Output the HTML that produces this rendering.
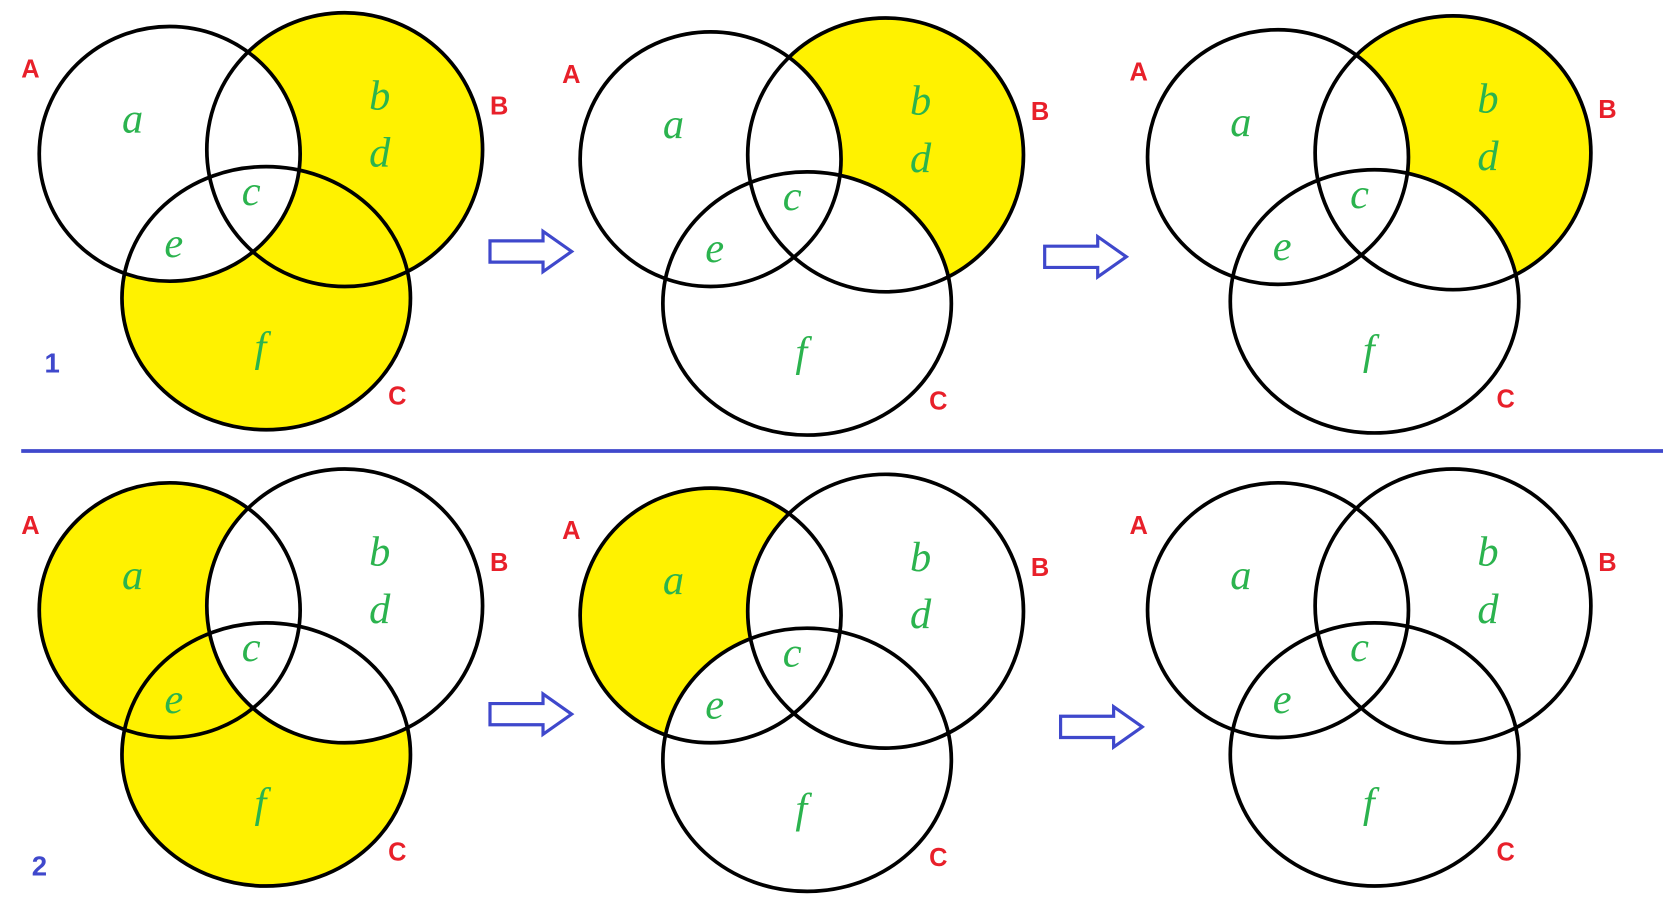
<!DOCTYPE html>
<html><head><meta charset="utf-8"><style>
html,body{margin:0;padding:0;background:#fff;}
svg{display:block;}
.g{font-family:"Liberation Serif",serif;font-style:italic;fill:#2bb34e;font-size:40px;}
.r{font-family:"Liberation Sans",sans-serif;font-weight:bold;fill:#e8202a;font-size:24px;}
.n{font-family:"Liberation Sans",sans-serif;font-weight:bold;fill:#3f48cc;font-size:26px;}
.c{fill:none;stroke:#000;stroke-width:3.5;}
.y{fill:#fff200;}
.ar{fill:#fff;stroke:#3f48cc;stroke-width:3;}
</style></head><body>
<svg width="1663" height="920" viewBox="0 0 1568 867" preserveAspectRatio="none" xmlns="http://www.w3.org/2000/svg">
<defs>
<mask id="mNotA" maskUnits="userSpaceOnUse" x="-400" y="-400" width="1000" height="1000">
<rect x="-400" y="-400" width="1000" height="1000" fill="#fff"/><ellipse cx="0" cy="0" rx="123" ry="120" fill="#000"/></mask>
<mask id="mNotB" maskUnits="userSpaceOnUse" x="-400" y="-400" width="1000" height="1000">
<rect x="-400" y="-400" width="1000" height="1000" fill="#fff"/><ellipse cx="165" cy="-4" rx="130" ry="129" fill="#000"/></mask>
<mask id="mNotAC" maskUnits="userSpaceOnUse" x="-400" y="-400" width="1000" height="1000">
<rect x="-400" y="-400" width="1000" height="1000" fill="#fff"/><ellipse cx="0" cy="0" rx="123" ry="120" fill="#000"/><ellipse cx="91" cy="136" rx="136" ry="124" fill="#000"/></mask>
<mask id="mNotBC" maskUnits="userSpaceOnUse" x="-400" y="-400" width="1000" height="1000">
<rect x="-400" y="-400" width="1000" height="1000" fill="#fff"/><ellipse cx="165" cy="-4" rx="130" ry="129" fill="#000"/><ellipse cx="91" cy="136" rx="136" ry="124" fill="#000"/></mask>
</defs>
<rect width="1568" height="867" fill="#fff"/>

<!-- Panel 1 -->
<g transform="translate(160,145)">
<g mask="url(#mNotA)"><ellipse class="y" cx="165" cy="-4" rx="130" ry="129"/><ellipse class="y" cx="91" cy="136" rx="136" ry="124"/></g>
<ellipse class="c" cx="0" cy="0" rx="123" ry="120"/><ellipse class="c" cx="165" cy="-4" rx="130" ry="129"/><ellipse class="c" cx="91" cy="136" rx="136" ry="124"/>
<text class="g" x="-45" y="-20">a</text><text class="g" x="188" y="-42">b</text><text class="g" x="188" y="12">d</text><text class="g" x="68" y="48">c</text><text class="g" x="-5" y="97">e</text><text class="g" x="80" y="195">f</text>
<text class="r" x="-140" y="-72">A</text><text class="r" x="302" y="-37">B</text><text class="r" x="206" y="236">C</text>
</g>
<text class="n" x="42" y="351">1</text>

<!-- Panel 2 -->
<g transform="translate(670,150)">
<g mask="url(#mNotAC)"><ellipse class="y" cx="165" cy="-4" rx="130" ry="129"/></g>
<ellipse class="c" cx="0" cy="0" rx="123" ry="120"/><ellipse class="c" cx="165" cy="-4" rx="130" ry="129"/><ellipse class="c" cx="91" cy="136" rx="136" ry="124"/>
<text class="g" x="-45" y="-20">a</text><text class="g" x="188" y="-42">b</text><text class="g" x="188" y="12">d</text><text class="g" x="68" y="48">c</text><text class="g" x="-5" y="97">e</text><text class="g" x="80" y="195">f</text>
<text class="r" x="-140" y="-72">A</text><text class="r" x="302" y="-37">B</text><text class="r" x="206" y="236">C</text>
</g>

<!-- Panel 3 -->
<g transform="translate(1205,148)">
<g mask="url(#mNotAC)"><ellipse class="y" cx="165" cy="-4" rx="130" ry="129"/></g>
<ellipse class="c" cx="0" cy="0" rx="123" ry="120"/><ellipse class="c" cx="165" cy="-4" rx="130" ry="129"/><ellipse class="c" cx="91" cy="136" rx="136" ry="124"/>
<text class="g" x="-45" y="-20">a</text><text class="g" x="188" y="-42">b</text><text class="g" x="188" y="12">d</text><text class="g" x="68" y="48">c</text><text class="g" x="-5" y="97">e</text><text class="g" x="80" y="195">f</text>
<text class="r" x="-140" y="-72">A</text><text class="r" x="302" y="-37">B</text><text class="r" x="206" y="236">C</text>
</g>

<line x1="20" y1="425" x2="1568" y2="425" stroke="#3f48cc" stroke-width="3.5"/>

<!-- Panel 4 -->
<g transform="translate(160,575)">
<g mask="url(#mNotB)"><ellipse class="y" cx="0" cy="0" rx="123" ry="120"/><ellipse class="y" cx="91" cy="136" rx="136" ry="124"/></g>
<ellipse class="c" cx="0" cy="0" rx="123" ry="120"/><ellipse class="c" cx="165" cy="-4" rx="130" ry="129"/><ellipse class="c" cx="91" cy="136" rx="136" ry="124"/>
<text class="g" x="-45" y="-20">a</text><text class="g" x="188" y="-42">b</text><text class="g" x="188" y="12">d</text><text class="g" x="68" y="48">c</text><text class="g" x="-5" y="97">e</text><text class="g" x="80" y="195">f</text>
<text class="r" x="-140" y="-72">A</text><text class="r" x="302" y="-37">B</text><text class="r" x="206" y="236">C</text>
</g>
<text class="n" x="30" y="825">2</text>

<!-- Panel 5 -->
<g transform="translate(670,580)">
<g mask="url(#mNotBC)"><ellipse class="y" cx="0" cy="0" rx="123" ry="120"/></g>
<ellipse class="c" cx="0" cy="0" rx="123" ry="120"/><ellipse class="c" cx="165" cy="-4" rx="130" ry="129"/><ellipse class="c" cx="91" cy="136" rx="136" ry="124"/>
<text class="g" x="-45" y="-20">a</text><text class="g" x="188" y="-42">b</text><text class="g" x="188" y="12">d</text><text class="g" x="68" y="48">c</text><text class="g" x="-5" y="97">e</text><text class="g" x="80" y="195">f</text>
<text class="r" x="-140" y="-72">A</text><text class="r" x="302" y="-37">B</text><text class="r" x="206" y="236">C</text>
</g>

<!-- Panel 6 -->
<g transform="translate(1205,575)">
<ellipse class="c" cx="0" cy="0" rx="123" ry="120"/><ellipse class="c" cx="165" cy="-4" rx="130" ry="129"/><ellipse class="c" cx="91" cy="136" rx="136" ry="124"/>
<text class="g" x="-45" y="-20">a</text><text class="g" x="188" y="-42">b</text><text class="g" x="188" y="12">d</text><text class="g" x="68" y="48">c</text><text class="g" x="-5" y="97">e</text><text class="g" x="80" y="195">f</text>
<text class="r" x="-140" y="-72">A</text><text class="r" x="302" y="-37">B</text><text class="r" x="206" y="236">C</text>
</g>

<!-- Arrows -->
<path class="ar" transform="translate(462,237)" d="M0,-10 L50,-10 L50,-19 L77,0 L50,19 L50,10 L0,10 Z"/>
<path class="ar" transform="translate(985,242)" d="M0,-10 L50,-10 L50,-19 L77,0 L50,19 L50,10 L0,10 Z"/>
<path class="ar" transform="translate(462,673)" d="M0,-10 L50,-10 L50,-19 L77,0 L50,19 L50,10 L0,10 Z"/>
<path class="ar" transform="translate(1000,685)" d="M0,-10 L50,-10 L50,-19 L77,0 L50,19 L50,10 L0,10 Z"/>
</svg>
</body></html>
